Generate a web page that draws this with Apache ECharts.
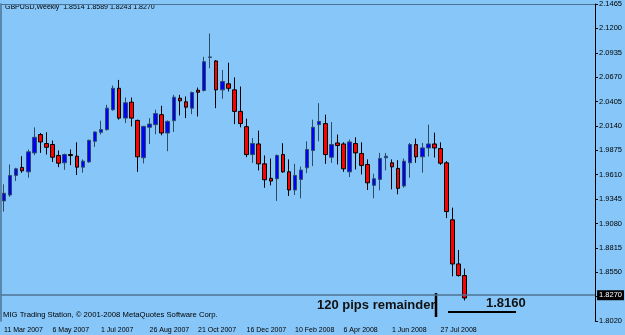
<!DOCTYPE html>
<html>
<head>
<meta charset="utf-8">
<style>
html, body { margin: 0; padding: 0; background: #86c6f8; }
#main { width: 625px; height: 335px; }
</style>
<script src="https://cdn.jsdelivr.net/npm/echarts@6/dist/echarts.min.js"></script>
</head>
<body>
<div id="main"></div>
<script>
// weekly GBPUSD bars, first one = week of 11 Mar 2007
var opens = [1.9325, 1.9389, 1.9602, 1.9689, 1.9641, 1.9847, 2.0046, 1.9948, 1.9938, 1.9819,
    1.9739, 1.9829, 1.9811, 1.9692, 1.9749, 1.9973, 2.0071, 2.0100, 2.0316, 2.0549,
    2.0225, 2.0398, 2.0200, 1.9794, 2.0125, 2.0154, 2.0262, 2.0063, 2.0197, 2.0441,
    2.0402, 2.0333, 2.0528, 2.0525, 2.0884, 2.0846, 2.0532, 2.0597, 2.0532, 2.0298,
    2.0132, 1.9829, 1.9944, 1.9728, 1.9570, 1.9566, 1.9829, 1.9641, 1.9444, 1.9559,
    1.9685, 1.9873, 2.0154, 2.0165, 1.9800, 1.9955, 1.9944, 1.9641, 1.9948, 1.9840,
    1.9721, 1.9494, 1.9559, 1.9794, 1.9739, 1.9678, 1.9487, 1.9739, 1.9938, 1.9804,
    1.9901, 1.9944, 1.9894, 1.9739, 1.9119, 1.8640, 1.8514];
var closes = [1.9408, 1.9602, 1.9674, 1.9652, 1.9858, 2.0016, 1.9966, 1.9908, 1.9800, 1.9735,
    1.9829, 1.9818, 1.9692, 1.9757, 1.9984, 2.0074, 2.0100, 2.0333, 2.0549, 2.0225,
    2.0392, 2.0225, 1.9804, 2.0135, 2.0160, 2.0274, 2.0063, 2.0189, 2.0452, 2.0413,
    2.0344, 2.0503, 2.0506, 2.0838, 2.0890, 2.0532, 2.0622, 2.0549, 2.0298, 2.0165,
    1.9829, 1.9948, 1.9728, 1.9555, 1.9541, 1.9819, 1.9641, 1.9444, 1.9602, 1.9660,
    1.9884, 2.0125, 2.0189, 1.9829, 1.9938, 1.9927, 1.9674, 1.9966, 1.9847, 1.9711,
    1.9522, 1.9566, 1.9786, 1.9811, 1.9695, 1.9462, 1.9757, 1.9938, 1.9804, 1.9901,
    1.9944, 1.9901, 1.9735, 1.9209, 1.8640, 1.8514, 1.8270];
var highs = [1.9505, 1.9721, 1.9685, 1.9811, 1.9884, 2.0125, 2.0063, 2.0071, 1.9981, 1.9873,
    1.9840, 1.9884, 1.9962, 1.9776, 1.9990, 2.0081, 2.0197, 2.0370, 2.0579, 2.0640,
    2.0449, 2.0449, 2.0208, 2.0140, 2.0225, 2.0316, 2.0359, 2.0200, 2.0478, 2.0478,
    2.0460, 2.0514, 2.0557, 2.0892, 2.1144, 2.0856, 2.0748, 2.0827, 2.0668, 2.0568,
    2.0219, 2.0009, 2.0089, 1.9819, 1.9786, 1.9829, 1.9952, 1.9776, 1.9728, 1.9698,
    1.9973, 2.0208, 2.0387, 2.0262, 2.0182, 2.0046, 1.9962, 1.9992, 2.0016, 1.9962,
    1.9776, 1.9620, 1.9847, 1.9847, 1.9776, 1.9768, 1.9786, 1.9955, 2.0002, 1.9955,
    2.0154, 2.0067, 1.9962, 1.9757, 1.9252, 1.8792, 1.8589];
var lows = [1.9209, 1.9368, 1.9541, 1.9631, 1.9577, 1.9822, 1.9847, 1.9829, 1.9749, 1.9692,
    1.9663, 1.9714, 1.9606, 1.9631, 1.9739, 1.9912, 2.0046, 2.0089, 2.0305, 2.0208,
    2.0171, 2.0135, 1.9641, 1.9732, 1.9944, 2.0049, 2.0038, 1.9865, 2.0074, 2.0254,
    2.0225, 2.0268, 2.0243, 2.0514, 2.0766, 2.0333, 2.0435, 2.0514, 2.0160, 2.0125,
    1.9800, 1.9739, 1.9657, 1.9468, 1.9494, 1.9325, 1.9631, 1.9379, 1.9389, 1.9354,
    1.9627, 1.9703, 1.9973, 1.9728, 1.9739, 1.9721, 1.9641, 1.9584, 1.9667, 1.9613,
    1.9444, 1.9354, 1.9440, 1.9657, 1.9451, 1.9397, 1.9468, 1.9577, 1.9739, 1.9631,
    1.9808, 1.9797, 1.9717, 1.9138, 1.8506, 1.8503, 1.8243];
// one label every 8 bars
var tickLabels = ['11 Mar 2007', '6 May 2007', '1 Jul 2007', '26 Aug 2007', '21 Oct 2007',
    '16 Dec 2007', '10 Feb 2008', '6 Apr 2008', '1 Jun 2008', '27 Jul 2008'];
var tickEvery = 8;
var emptySlots = 21;   // chart shift on the right

var cats = [];
var candles = [];
for (var i = 0; i < opens.length + emptySlots; i++) {
    cats.push(String(i));
}
for (var i = 0; i < opens.length; i++) {
    candles.push([opens[i], closes[i], lows[i], highs[i]]);
}
var last = opens.length - 1;
var showTick = function (i) {
    return i % tickEvery === 0 && i / tickEvery < tickLabels.length;
};

var chart = echarts.init(document.getElementById('main'));
var font = 'Liberation Sans, Arial, sans-serif';
var frame = '#4a7396';
chart.setOption({
    backgroundColor: '#86c6f8',
    animation: false,
    textStyle: { fontFamily: font },
    grid: { left: 1, right: 29, top: 2, bottom: 14 },
    xAxis: [{
        type: 'category',
        data: cats,
        boundaryGap: true,
        offset: 3,
        axisLine: { show: false },
        axisTick: { alignWithLabel: true, interval: showTick, length: 5, lineStyle: { color: '#000' } },
        axisLabel: {
            interval: showTick,
            formatter: function (v, i) { return tickLabels[i / tickEvery] || ''; },
            align: 'left', margin: 3, fontSize: 7, color: '#000', fontFamily: font
        },
        splitLine: { show: false }
    }, {
        // top frame line
        type: 'category', data: cats, position: 'top',
        axisLine: { show: true, lineStyle: { color: frame } },
        axisTick: { show: false }, axisLabel: { show: false }, splitLine: { show: false }
    }],
    yAxis: [{
        type: 'value',
        position: 'right',
        min: 1.802, max: 2.1465, interval: 0.0265,
        axisLine: { show: true, lineStyle: { color: '#000' } },
        axisTick: { show: true, length: 3, lineStyle: { color: '#000' } },
        axisLabel: {
            formatter: function (v) { return v.toFixed(4); },
            fontSize: 7.5, margin: 4, color: '#000', fontFamily: font
        },
        splitLine: { show: false }
    }, {
        // left frame line
        type: 'value', position: 'left', min: 0, max: 1,
        axisLine: { show: true, lineStyle: { color: frame, width: 1.5 } },
        axisTick: { show: false }, axisLabel: { show: false }, splitLine: { show: false }
    }],
    series: [{
        type: 'candlestick',
        data: candles,
        barWidth: 4,
        itemStyle: {
            color: '#0000ff', color0: '#ff0000',
            borderColor: '#2d4a66', borderColor0: '#000', borderWidth: 1
        },
        markLine: {
            symbol: 'none', silent: true,
            data: [{ yAxis: closes[last] }],
            lineStyle: { color: '#4d7393', width: 1.5, type: 'solid' },
            label: {
                position: 'end', distance: 2,
                formatter: closes[last].toFixed(4),
                backgroundColor: '#000', color: '#fff',
                fontSize: 7.5, padding: [1, 2], fontFamily: font
            }
        }
    }],
    graphic: [
        { type: 'text', left: 5, top: 4,
          style: { text: 'GBPUSD,Weekly  ' + [opens[last], highs[last], lows[last], closes[last]].map(function (v) { return v.toFixed(4); }).join(' '),
                   fontSize: 7, fill: '#000', fontFamily: font } },
        { type: 'text', left: 3, top: 311,
          style: { text: 'MIG Trading Station, \u00a9 2001-2008 MetaQuotes Software Corp.',
                   fontSize: 7.7, fill: '#000', fontFamily: font } },
        { type: 'text', left: 317, top: 299,
          style: { text: '120 pips remainder', fontSize: 13, fontWeight: 'bold', fill: '#111', fontFamily: font } },
        { type: 'line', shape: { x1: 436, y1: 293, x2: 436, y2: 317 }, style: { stroke: '#000', lineWidth: 2.5 } },
        { type: 'text', left: 486, top: 297,
          style: { text: '1.8160', fontSize: 13, fontWeight: 'bold', fill: '#111', fontFamily: font } },
        { type: 'line', shape: { x1: 448, y1: 312, x2: 516, y2: 312 }, style: { stroke: '#000', lineWidth: 2 } }
    ]
});
</script>
</body>
</html>
